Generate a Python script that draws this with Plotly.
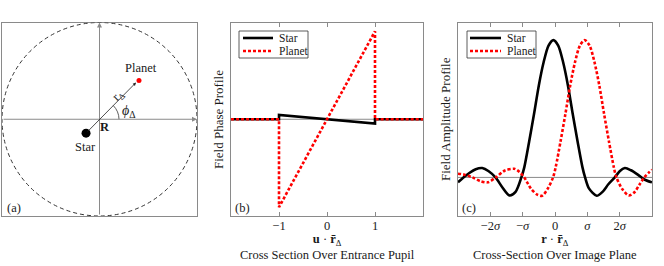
import plotly.graph_objects as go

W, H = 664, 266

# ---------------- data ----------------
# panel (a): diagram positions (axis units, circle radius = 1)
STAR_POS = [-0.138, -0.144]
PLANET_POS = [0.405, 0.400]
ARROW_TIP = [0.375, 0.380]

# panel (b): phase profile across entrance pupil
phase_x_star = [-2, -1, -1, 1, 1, 2]
phase_star = [0, 0, 0.05, -0.05, 0, 0]
phase_x_planet = [-2, -1, -1, 1, 1, 2]
phase_planet = [0, 0, -1, 1, 0, 0]
phase_ticks = [-1, 0, 1]
phase_ticktext = ["\u22121", "0", "1"]

# panel (c): amplitude profile over image plane (x in units of sigma)
amp_x_star = [-3.0, -2.85, -2.65, -2.45, -2.25, -2.05, -1.84, -1.62, -1.41, -1.22,
              -1.04, -0.95, -0.8, -0.65, -0.5, -0.35, -0.2, -0.05, 0.1, 0.25,
              0.4, 0.55, 0.7, 0.85, 0.93, 1.05, 1.29, 1.47, 1.65, 1.85,
              2.0, 2.16, 2.35, 2.57, 2.78, 3.0]
amp_star = [-0.036, -0.005, 0.032, 0.060, 0.068, 0.045, 0.0, -0.075, -0.131, -0.105,
            0.0, 0.073, 0.26, 0.46, 0.67, 0.84, 0.96, 1.0, 0.96, 0.84,
            0.67, 0.46, 0.26, 0.073, 0.0, -0.08, -0.134, -0.105, -0.05, 0.0,
            0.045, 0.068, 0.052, 0.019, -0.017, -0.036]
amp_x_planet = [-3.0, -2.8, -2.55, -2.3, -2.08, -1.83, -1.55, -1.26, -1.1, -0.95,
                -0.75, -0.55, -0.40, -0.22, -0.06, 0.02, 0.17, 0.32, 0.47, 0.62,
                0.77, 0.92, 1.07, 1.22, 1.37, 1.52, 1.67, 1.82, 1.9, 2.08,
                2.28, 2.45, 2.62, 2.76, 2.9, 3.0]
amp_planet = [0.027, 0.02, 0.0, -0.028, -0.036, 0.0, 0.05, 0.063, 0.04, 0.0,
              -0.08, -0.125, -0.134, -0.08, 0.0, 0.073, 0.26, 0.46, 0.67, 0.84,
              0.96, 1.0, 0.96, 0.84, 0.67, 0.46, 0.26, 0.073, 0.0, -0.085,
              -0.131, -0.11, -0.05, 0.0, 0.035, 0.056]
amp_ticks = [-2, -1, 0, 1, 2]
amp_ticktext = ["\u22122<i>\u03c3</i>", "\u2212<i>\u03c3</i>", "0", "<i>\u03c3</i>", "2<i>\u03c3</i>"]

# ---------------- style ----------------
FONT = "Liberation Serif"
GRAY = "#8a8a8a"
TXT = "#1a1a1a"
RED = "#ff0000"
LW = 2.6
DOT = "3px,2px"


def px(x):
    return x / W


def py(y):
    return 1 - y / H


fig = go.Figure()

# panel (a) markers
fig.add_trace(go.Scatter(x=[STAR_POS[0]], y=[STAR_POS[1]], mode="markers",
                         marker=dict(color="black", size=9), xaxis="x", yaxis="y",
                         showlegend=False, hoverinfo="skip"))
fig.add_trace(go.Scatter(x=[PLANET_POS[0]], y=[PLANET_POS[1]], mode="markers",
                         marker=dict(color=RED, size=5), xaxis="x", yaxis="y",
                         showlegend=False, hoverinfo="skip"))

# panel (b)
fig.add_trace(go.Scatter(x=phase_x_star, y=phase_star, mode="lines",
                         line=dict(color="black", width=LW), xaxis="x2", yaxis="y2",
                         name="Star", showlegend=False))
fig.add_trace(go.Scatter(x=phase_x_planet, y=phase_planet, mode="lines",
                         line=dict(color=RED, width=LW, dash=DOT), xaxis="x2", yaxis="y2",
                         name="Planet", showlegend=False))

# panel (c)
fig.add_trace(go.Scatter(x=amp_x_star, y=amp_star, mode="lines",
                         line=dict(color="black", width=LW, shape="spline", smoothing=0.8),
                         xaxis="x3", yaxis="y3", name="Star", showlegend=False))
fig.add_trace(go.Scatter(x=amp_x_planet, y=amp_planet, mode="lines",
                         line=dict(color=RED, width=LW, dash=DOT, shape="spline", smoothing=0.8),
                         xaxis="x3", yaxis="y3", name="Planet", showlegend=False))

ydom = [py(216), py(22.5)]
common = dict(showline=True, linecolor=GRAY, linewidth=1, mirror=True,
              showgrid=False, zeroline=False, automargin=False)

fig.update_layout(
    width=W, height=H, margin=dict(l=0, r=0, t=0, b=0, autoexpand=False),
    paper_bgcolor="white", plot_bgcolor="white",
    font=dict(family=FONT, size=12.5, color=TXT),
    showlegend=False,
    xaxis=dict(domain=[px(2), px(197)], range=[-1, 1], showticklabels=False, ticks="", **common),
    yaxis=dict(domain=ydom, range=[-1, 1], showticklabels=False, ticks="", **common),
    xaxis2=dict(domain=[px(231), px(423)], range=[-2, 2], tickvals=phase_ticks,
                ticktext=phase_ticktext, ticks="inside", ticklen=4, tickcolor=GRAY,
                ticklabelstandoff=-2,
                anchor="y2", tickfont=dict(size=12.5, color=TXT), **{**common, "mirror": "ticks"}),
    yaxis2=dict(domain=ydom, range=[-1.1, 1.1], showticklabels=False, ticks="",
                anchor="x2", **common),
    xaxis3=dict(domain=[px(458), px(652)], range=[-3, 3], tickvals=amp_ticks,
                ticktext=amp_ticktext, ticks="inside", ticklen=4, tickcolor=GRAY,
                ticklabelstandoff=-2,
                anchor="y3", tickfont=dict(size=12.5, color=TXT), **{**common, "mirror": "ticks"}),
    yaxis3=dict(domain=ydom, range=[-0.281, 1.128], showticklabels=False, ticks="",
                anchor="x3", **common),
)

shapes = []
# panel (a) dashed circle
shapes.append(dict(type="circle", xref="x", yref="y", x0=-1, y0=-1, x1=1, y1=1,
                   line=dict(color="#333333", width=1, dash="4px,3px")))
# angle arc (cubic bezier approximation of 45 deg arc, radius 0.2)
r = 0.2
shapes.append(dict(type="path", xref="x", yref="y",
                   path=f"M {r},0 C {r},{0.2652*r} {0.8946*r},{0.5196*r} {0.7071*r},{0.7071*r}",
                   line=dict(color="#333333", width=0.8)))
# zero lines
shapes.append(dict(type="line", xref="x2", yref="y2", x0=-2, x1=2, y0=0, y1=0,
                   line=dict(color=GRAY, width=1), layer="below"))
shapes.append(dict(type="line", xref="x3", yref="y3", x0=-3, x1=3, y0=0, y1=0,
                   line=dict(color=GRAY, width=1), layer="below"))

# legends (drawn)
annotations = []
for (bx0, bx1, lx0, lx1, tx) in [(239, 308, 243, 273, 277), (467, 536, 470, 501, 505)]:
    shapes.append(dict(type="rect", xref="paper", yref="paper", x0=px(bx0), x1=px(bx1),
                       y0=py(58), y1=py(31), line=dict(color="#333333", width=0.8),
                       fillcolor="white"))
    shapes.append(dict(type="line", xref="paper", yref="paper", x0=px(lx0), x1=px(lx1),
                       y0=py(38), y1=py(38), line=dict(color="black", width=LW)))
    shapes.append(dict(type="line", xref="paper", yref="paper", x0=px(lx0), x1=px(lx1),
                       y0=py(51), y1=py(51), line=dict(color=RED, width=LW, dash=DOT)))
    annotations.append(dict(xref="paper", yref="paper", x=px(tx), y=py(38), text="Star",
                            showarrow=False, xanchor="left", yanchor="middle",
                            font=dict(size=11.5)))
    annotations.append(dict(xref="paper", yref="paper", x=px(tx), y=py(51), text="Planet",
                            showarrow=False, xanchor="left", yanchor="middle",
                            font=dict(size=11.5)))

# panel (a) axes arrows and vector
annotations.append(dict(xref="x", yref="y", axref="x", ayref="y", x=0, y=1, ax=0, ay=-1,
                        text="", showarrow=True, arrowhead=2, arrowsize=1, arrowwidth=1,
                        arrowcolor=GRAY))
annotations.append(dict(xref="x", yref="y", axref="x", ayref="y", x=1, y=0, ax=-1, ay=0,
                        text="", showarrow=True, arrowhead=2, arrowsize=1, arrowwidth=1,
                        arrowcolor=GRAY))
annotations.append(dict(xref="x", yref="y", axref="x", ayref="y", x=ARROW_TIP[0], y=ARROW_TIP[1],
                        ax=STAR_POS[0], ay=STAR_POS[1], text="", showarrow=True,
                        arrowhead=2, arrowsize=0.8, arrowwidth=0.8, arrowcolor="#222222"))

labels_a = [
    (0.43, 0.53, "Planet", 12.5, 0),
    (0.19, 0.245, "r<sub>\u0394</sub>", 12.5, -45),
    (0.30, 0.08, "<i>\u03d5</i><sub>\u0394</sub>", 14, 0),
    (0.06, -0.085, "<b>R</b>", 12.5, 0),
    (-0.14, -0.29, "Star", 12.5, 0),
    (-0.88, -0.915, "(a)", 12.5, 0),
]
for x, y, t, fs, ang in labels_a:
    annotations.append(dict(xref="x", yref="y", x=x, y=y, text=t, showarrow=False,
                            xanchor="center", yanchor="middle",
                            textangle=ang, font=dict(size=fs)))


def ptext(x, y, t, ang=0, size=12.5):
    annotations.append(dict(xref="paper", yref="paper", x=px(x), y=py(y), text=t,
                            showarrow=False, xanchor="center", yanchor="middle",
                            textangle=ang, font=dict(size=size)))


# panel labels
ptext(242, 208, "(b)")
ptext(469, 208, "(c)")

# axis titles
ptext(218, 119, "Field Phase Profile", -90, 13)
ptext(445, 119, "Field Amplitude Profile", -90, 13)
ptext(327, 247, "<b>u</b> \u00b7 <b>r\u0304</b><sub>\u0394</sub><br>Cross Section Over Entrance Pupil",
      size=12.5)
ptext(555, 247, "<b>r</b> \u00b7 <b>r\u0304</b><sub>\u0394</sub><br>Cross-Section Over Image Plane",
      size=12.5)

fig.update_layout(shapes=shapes, annotations=annotations)

fig.write_html("out.html", config={"displayModeBar": False},
               post_script="document.body.style.margin='0';")
